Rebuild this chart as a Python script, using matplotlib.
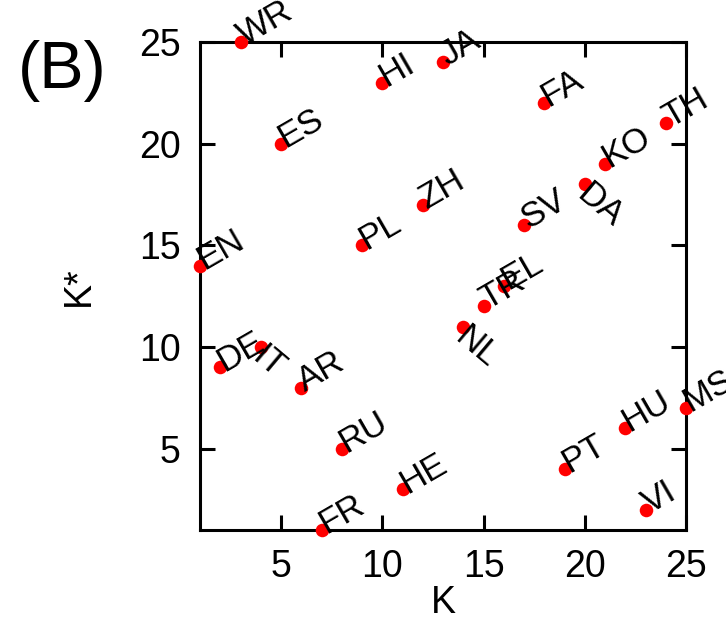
import matplotlib
matplotlib.use('Agg')
from matplotlib import pyplot as plt

plt.rcParams['font.family'] = ['Liberation Sans', 'DejaVu Sans']

# language codes with their K and K* ranks
langs = ['WR', 'HI', 'JA', 'FA', 'TH', 'ES', 'KO', 'DA', 'ZH', 'SV', 'PL', 'EN',
         'EL', 'TR', 'NL', 'DE', 'IT', 'AR', 'MS', 'HU', 'RU', 'PT', 'HE', 'VI', 'FR']
k_vals = [3, 10, 13, 18, 24, 5, 21, 20, 12, 17, 9, 1,
          16, 15, 14, 2, 4, 6, 25, 22, 8, 19, 11, 23, 7]
kstar_vals = [25, 23, 24, 22, 21, 20, 19, 18, 17, 16, 15, 14,
              13, 12, 11, 9, 10, 8, 7, 6, 5, 4, 3, 2, 1]
# labels written downward instead of upward
down_labels = ['DA', 'NL', 'IT']

fig = plt.figure(figsize=(7.26, 6.24), dpi=100)
ax = fig.add_axes([200 / 726, 1 - 530 / 624, 486 / 726, 488 / 624])

ax.scatter(k_vals, kstar_vals, s=95, c='#ff0000', zorder=3, clip_on=False, linewidths=0)

for name, x, y in zip(langs, k_vals, kstar_vals):
    if name in down_labels:
        ax.annotate(name, (x, y), xytext=(5, 5), textcoords='offset points',
                    rotation=-40, rotation_mode='anchor', ha='left', va='top',
                    fontsize=25, zorder=4, annotation_clip=False)
    else:
        ax.annotate(name, (x, y), xytext=(3, -3), textcoords='offset points',
                    rotation=30, rotation_mode='anchor', ha='left', va='baseline',
                    fontsize=25, zorder=4, annotation_clip=False)

ax.set_xlim(1, 25)
ax.set_ylim(1, 25)
ax.set_xticks([5, 10, 15, 20, 25])
ax.set_yticks([5, 10, 15, 20, 25])
ax.tick_params(direction='in', length=11, width=2.2, labelsize=27, pad=14,
               top=True, right=True)
for sp in ax.spines.values():
    sp.set_linewidth(2.2)

ax.set_xlabel('K', fontsize=27, labelpad=0)
ax.set_ylabel('K*', fontsize=27, labelpad=30)

fig.text(18 / 726, 1 - 88 / 624, '(B)', fontsize=48)

fig.savefig('out.png', dpi=100)
